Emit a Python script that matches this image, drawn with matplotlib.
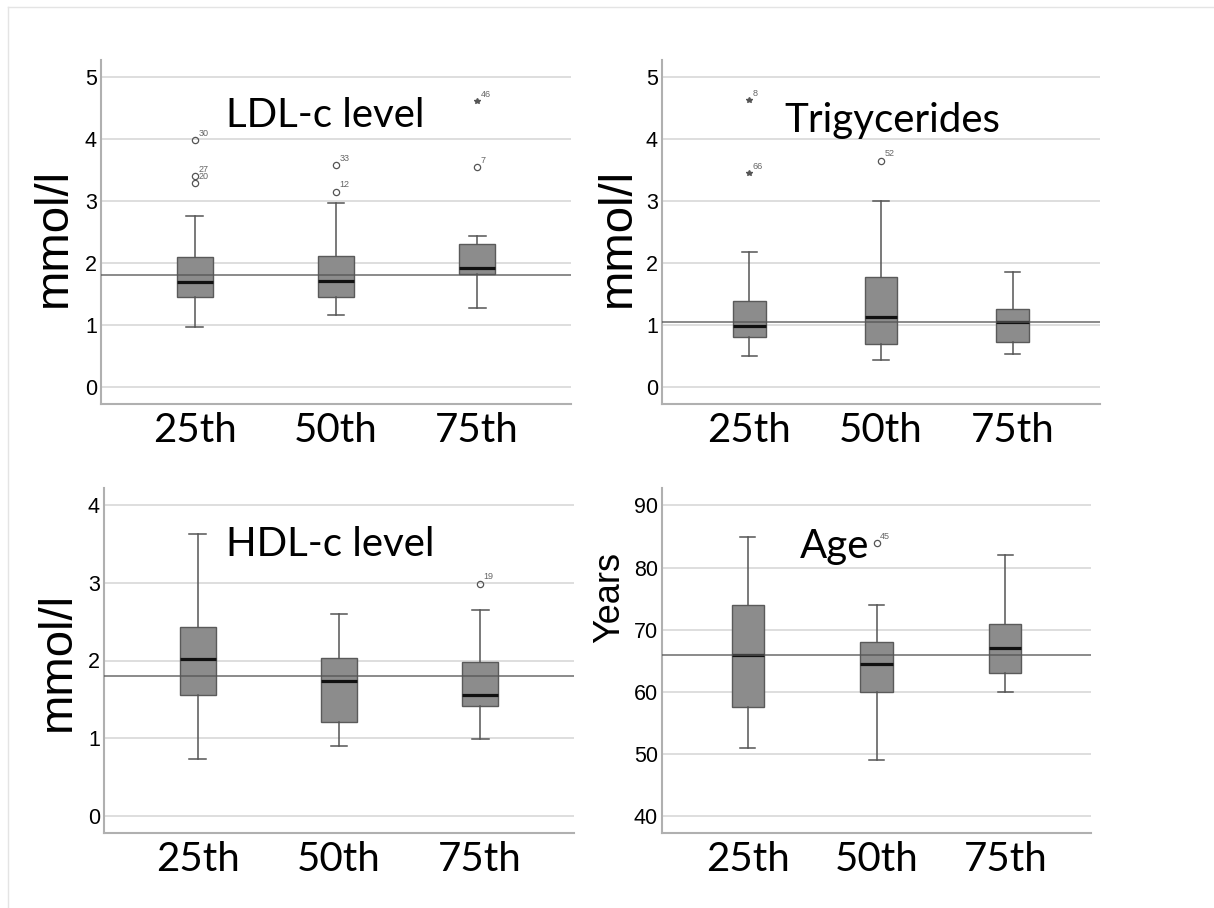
import matplotlib
matplotlib.use("Agg")
import matplotlib.pyplot as plt
from matplotlib.lines import Line2D

groups = ["25th", "50th", "75th"]

# LDL-c (mmol/l): whisker low, Q1, median, Q3, whisker high
ldl_lo = [0.97, 1.16, 1.27]
ldl_q1 = [1.45, 1.45, 1.82]
ldl_med = [1.69, 1.71, 1.92]
ldl_q3 = [2.10, 2.11, 2.31]
ldl_hi = [2.76, 2.97, 2.44]
ldl_out = [[(3.98, "30", "o"), (3.40, "27", "o"), (3.29, "20", "o")],
           [(3.58, "33", "o"), (3.15, "12", "o")],
           [(4.61, "46", "*"), (3.55, "7", "o")]]
ldl_ref = 1.80

# Triglycerides (mmol/l)
tg_lo = [0.50, 0.44, 0.53]
tg_q1 = [0.81, 0.69, 0.73]
tg_med = [0.98, 1.13, 1.05]
tg_q3 = [1.39, 1.77, 1.26]
tg_hi = [2.18, 3.00, 1.85]
tg_out = [[(4.63, "8", "*"), (3.45, "66", "*")],
          [(3.65, "52", "o")],
          []]
tg_ref = 1.05

# HDL-c (mmol/l)
hdl_lo = [0.73, 0.90, 0.99]
hdl_q1 = [1.55, 1.21, 1.42]
hdl_med = [2.02, 1.74, 1.55]
hdl_q3 = [2.43, 2.03, 1.98]
hdl_hi = [3.63, 2.60, 2.65]
hdl_out = [[], [], [(2.99, "19", "o")]]
hdl_ref = 1.80

# Age (years)
age_lo = [51.0, 49.0, 60.0]
age_q1 = [57.6, 60.0, 63.0]
age_med = [66.0, 64.5, 67.0]
age_q3 = [74.0, 68.0, 70.9]
age_hi = [84.9, 74.0, 82.0]
age_out = [[], [(84.0, "45", "o")], []]
age_ref = 66.0

W, H = 1214, 908
fig = plt.figure(figsize=(W / 100, H / 100), dpi=100)

# faint frame of the original picture
fig.add_artist(Line2D([8 / W, 8 / W], [0, 1 - 7 / H], color="#e4e4e4", lw=1))
fig.add_artist(Line2D([8 / W, 1], [1 - 7 / H, 1 - 7 / H], color="#e4e4e4", lw=1))

tick_font = ["Liberation Sans Narrow", "Liberation Sans"]
cat_font = ["Lato", "DejaVu Sans"]
lab_font = ["Liberation Sans", "DejaVu Sans"]

panels = [
    # data, outliers, ref, title, ylabel, box px (l, r, top, bottom), ylim, yticks, title pos, label pos, label size
    ((ldl_lo, ldl_q1, ldl_med, ldl_q3, ldl_hi), ldl_out, ldl_ref, "LDL-c level", "mmol/l",
     (101, 571, 60, 404), (-0.27, 5.27), [0, 1, 2, 3, 4, 5], (0.477, 0.84), (-0.053, 0.485), 34),
    ((tg_lo, tg_q1, tg_med, tg_q3, tg_hi), tg_out, tg_ref, "Trigycerides", "mmol/l",
     (662, 1100, 60, 404), (-0.27, 5.27), [0, 1, 2, 3, 4, 5], (0.527, 0.825), (-0.050, 0.485), 34),
    ((hdl_lo, hdl_q1, hdl_med, hdl_q3, hdl_hi), hdl_out, hdl_ref, "HDL-c level", "mmol/l",
     (104, 574, 488, 833), (-0.22, 4.22), [0, 1, 2, 3, 4], (0.481, 0.835), (-0.051, 0.496), 34),
    ((age_lo, age_q1, age_med, age_q3, age_hi), age_out, age_ref, "Age", "Years",
     (662, 1091, 488, 833), (37.3, 92.8), [40, 50, 60, 70, 80, 90], (0.403, 0.83), (-0.08, 0.684), 26),
]

for (lo, q1, med, q3, hi), outs, ref, title, ylabel, px, ylim, yticks, tpos, lpos, lsize in panels:
    l, r, t, b = px
    ax = fig.add_axes([l / W, 1 - b / H, (r - l) / W, (b - t) / H])
    stats = []
    for i in range(3):
        stats.append({"whislo": lo[i], "q1": q1[i], "med": med[i], "q3": q3[i],
                      "whishi": hi[i], "fliers": []})
    ax.bxp(stats, positions=[1, 2, 3], widths=0.25, patch_artist=True,
           showfliers=False,
           boxprops=dict(facecolor="#8c8c8c", edgecolor="#5a5a5a", linewidth=1.0),
           medianprops=dict(color="#111111", linewidth=2.3),
           whiskerprops=dict(color="#555555", linewidth=1.1),
           capprops=dict(color="#555555", linewidth=1.1),
           capwidths=0.12, zorder=3)
    for i, pts in enumerate(outs):
        for val, lab, mk in pts:
            if mk == "o":
                ax.plot(i + 1, val, marker="o", ms=4.5, mfc="none", mec="#555555",
                        mew=0.9, zorder=4)
            else:
                ax.plot(i + 1, val, marker="*", ms=4, color="#555555", zorder=4)
            ax.annotate(lab, (i + 1, val), xytext=(2.5, 3), textcoords="offset points",
                        fontsize=6.5, color="#666666", family=tick_font)
    ax.axhline(ref, color="#555555", lw=1.2, alpha=0.8, zorder=5)
    ax.set_xlim(0.335, 3.665)
    ax.set_ylim(*ylim)
    ax.set_yticks(yticks)
    ax.set_yticklabels([str(v) for v in yticks], family=tick_font, fontsize=15.5)
    ax.set_xticks([1, 2, 3])
    ax.set_xticklabels(groups, family=cat_font, fontsize=29)
    ax.tick_params(length=0, pad=3)
    ax.tick_params(axis="x", pad=6)
    ax.grid(axis="y", color="#dedede", lw=1.4, zorder=0)
    ax.set_axisbelow(True)
    for s in ["top", "right"]:
        ax.spines[s].set_visible(False)
    for s in ["left", "bottom"]:
        ax.spines[s].set_color("#b0b0b0")
        ax.spines[s].set_linewidth(1.5)
    ax.text(tpos[0], tpos[1], title, transform=ax.transAxes, ha="center", va="center",
            family=cat_font, fontsize=29)
    ax.set_ylabel(ylabel, family=lab_font, fontsize=lsize)
    ax.yaxis.set_label_coords(*lpos)

fig.savefig("out.png", dpi=100)
